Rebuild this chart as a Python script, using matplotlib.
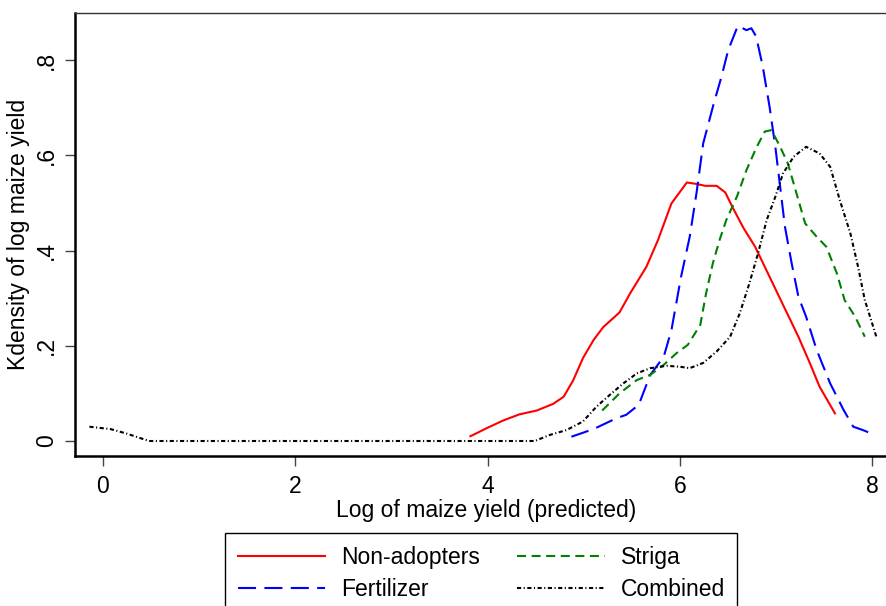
import matplotlib
matplotlib.use("Agg")
import matplotlib.pyplot as plt

plt.rcParams['font.family'] = ['Liberation Sans', 'DejaVu Sans']
plt.rcParams['lines.scale_dashes'] = False

# ---- data ----
non_x = [3.82, 3.99, 4.16, 4.33, 4.51, 4.68, 4.79, 4.89, 4.99, 5.10, 5.20, 5.37, 5.48, 5.65,
         5.77, 5.91, 6.07, 6.17, 6.26, 6.38, 6.47, 6.55, 6.66, 6.78, 6.93, 7.07, 7.23, 7.35, 7.45, 7.61]
non_y = [0.010, 0.027, 0.043, 0.056, 0.064, 0.078, 0.093, 0.128, 0.174, 0.212, 0.239, 0.270, 0.310, 0.366,
         0.422, 0.499, 0.543, 0.540, 0.536, 0.536, 0.522, 0.489, 0.447, 0.408, 0.345, 0.286, 0.219, 0.163, 0.114, 0.058]

fert_x = [4.87, 5.10, 5.34, 5.44, 5.57, 5.69, 5.83, 5.91, 6.01, 6.10, 6.17, 6.24, 6.35, 6.43, 6.50,
          6.60, 6.69, 6.74, 6.79, 6.86, 6.93, 6.99, 7.04, 7.09, 7.16, 7.23, 7.31, 7.42, 7.56, 7.70,
          7.80, 7.90, 8.02]
fert_y = [0.009, 0.025, 0.048, 0.055, 0.076, 0.139, 0.177, 0.233, 0.345, 0.429, 0.520, 0.625, 0.709, 0.765, 0.821,
          0.872, 0.863, 0.867, 0.850, 0.786, 0.702, 0.618, 0.534, 0.450, 0.373, 0.303, 0.261, 0.191, 0.121, 0.065,
          0.030, 0.023, 0.013]

striga_x = [5.19, 5.37, 5.55, 5.69, 5.83, 5.96, 6.08, 6.21, 6.27, 6.34, 6.41, 6.48, 6.59, 6.69, 6.79,
            6.88, 6.95, 7.04, 7.12, 7.21, 7.30, 7.42, 7.52, 7.63, 7.71, 7.82, 7.92]
striga_y = [0.064, 0.100, 0.128, 0.139, 0.160, 0.184, 0.202, 0.244, 0.310, 0.373, 0.422, 0.464, 0.513, 0.569, 0.615,
            0.650, 0.653, 0.618, 0.583, 0.520, 0.457, 0.429, 0.408, 0.352, 0.296, 0.261, 0.219]

comb_x = [-0.14, 0.08, 0.24, 0.48, 1.0, 2.0, 3.0, 4.0, 4.49, 4.65, 4.82, 4.99, 5.13, 5.27, 5.41, 5.55,
          5.69, 5.86, 6.00, 6.10, 6.24, 6.38, 6.52, 6.62, 6.72, 6.81, 6.90, 6.99, 7.07, 7.18, 7.31,
          7.45, 7.56, 7.66, 7.77, 7.85, 7.92, 8.04]
comb_y = [0.030, 0.025, 0.016, 0.0, 0.0, 0.0, 0.0, 0.0, 0.0, 0.013, 0.023, 0.041, 0.072, 0.097, 0.121, 0.142,
          0.153, 0.158, 0.156, 0.153, 0.164, 0.188, 0.219, 0.268, 0.331, 0.394, 0.464, 0.513, 0.562, 0.597, 0.618,
          0.604, 0.576, 0.506, 0.436, 0.366, 0.296, 0.219]

labels = ["Non-adopters", "Fertilizer", "Striga", "Combined"]
xticks = [0, 2, 4, 6, 8]
yticks = [0, 0.2, 0.4, 0.6, 0.8]
ytick_labels = ["0", ".2", ".4", ".6", ".8"]

W, H = 886, 606
fig = plt.figure(figsize=(W / 100, H / 100), dpi=100)
xmin, xmax = -0.29, 8.25
pxu = 96.2
ax = fig.add_axes([75 / W, (H - 456) / H, (xmax - xmin) * pxu / W, (456 - 13) / H])
ax.set_xlim(xmin, xmax)
ax.set_ylim(-0.0315, 0.899)

lw = 1.5
l1, = ax.plot(non_x, non_y, color='#ff0000', lw=lw, label=labels[0])
l2, = ax.plot(fert_x, fert_y, color='#0000ff', lw=lw, dashes=(13, 6), label=labels[1])
l3, = ax.plot(striga_x, striga_y, color='#008000', lw=lw, dashes=(6.5, 4), label=labels[2])
l4, = ax.plot(comb_x, comb_y, color='black', lw=lw, dashes=(3, 1.8, 0.8, 1.8), label=labels[3])

fs = 16.5
ax.set_xticks(xticks)
ax.set_xticklabels([str(t) for t in xticks], fontsize=fs)
ax.set_yticks(yticks)
ax.set_yticklabels(ytick_labels, fontsize=fs, rotation=90, va='center')
ax.tick_params(direction='out', length=7.5, width=1, color='#444444')
ax.tick_params(axis='x', pad=6)
ax.tick_params(axis='y', pad=5)
ax.set_xlabel("Log of maize yield (predicted)", fontsize=fs, labelpad=1)
ax.set_ylabel("Kdensity of log maize yield", fontsize=fs, labelpad=3)

for s in ['left', 'bottom']:
    ax.spines[s].set_linewidth(1.8)
ax.spines['top'].set_linewidth(1.0)
ax.spines['top'].set_color('#333333')
ax.spines['right'].set_linewidth(1.0)

leg = fig.legend(handles=[l1, l2, l3, l4], loc='upper left',
                 bbox_to_anchor=(225 / W, 1 - 533 / H), ncol=2, fontsize=fs,
                 frameon=True, fancybox=False, edgecolor='black', framealpha=1,
                 handlelength=3.8, handletextpad=0.7, columnspacing=1.65,
                 labelspacing=0.42, borderpad=0.55, borderaxespad=0)
leg.get_frame().set_linewidth(1.0)

fig.savefig("out.png", dpi=100)
